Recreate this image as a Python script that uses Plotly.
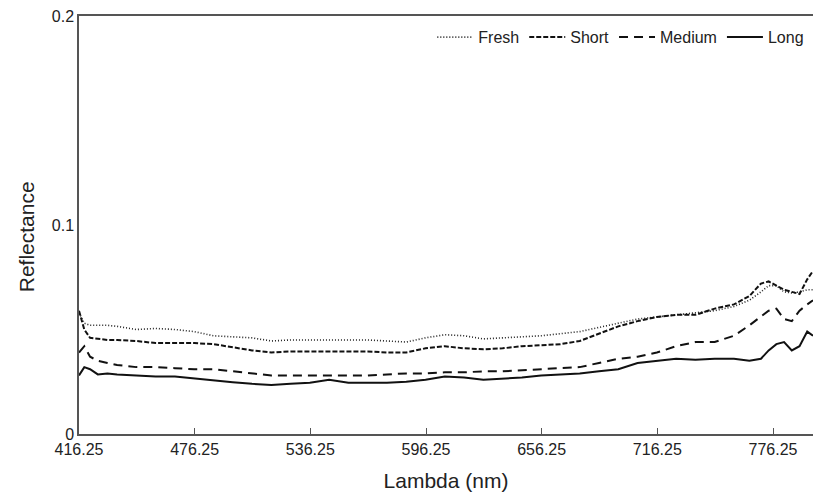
import plotly.graph_objects as go

wavelength = [416.25, 419, 422, 426, 431, 436, 446, 456, 466, 476, 486, 496, 506, 516, 526, 536,
              546, 556, 566, 576, 586, 596, 606, 616, 626, 636, 646, 656, 666, 676, 686, 696,
              706, 716, 726, 736, 746, 756, 764, 770, 774, 778, 782, 786, 790, 794, 797]

fresh = [0.058, 0.053, 0.052, 0.052, 0.052, 0.0515, 0.050, 0.0505, 0.050, 0.049, 0.047, 0.0465,
         0.046, 0.0445, 0.045, 0.045, 0.045, 0.045, 0.045, 0.0445, 0.044, 0.046, 0.0475, 0.047,
         0.0455, 0.046, 0.0465, 0.047, 0.048, 0.049, 0.051, 0.053, 0.055, 0.056, 0.057, 0.058,
         0.059, 0.061, 0.064, 0.068, 0.071, 0.071, 0.068, 0.0675, 0.068, 0.069, 0.069]

short = [0.059, 0.050, 0.046, 0.0455, 0.045, 0.045, 0.0445, 0.0435, 0.0435, 0.0435, 0.043, 0.0415,
         0.040, 0.039, 0.0395, 0.0395, 0.0395, 0.0395, 0.0395, 0.039, 0.039, 0.041, 0.042, 0.041,
         0.0405, 0.041, 0.042, 0.0425, 0.043, 0.0445, 0.048, 0.0515, 0.054, 0.056, 0.057, 0.057,
         0.060, 0.062, 0.066, 0.072, 0.073, 0.071, 0.069, 0.068, 0.067, 0.074, 0.078]

medium = [0.039, 0.042, 0.037, 0.035, 0.034, 0.033, 0.032, 0.032, 0.0315, 0.031, 0.031, 0.030,
          0.029, 0.028, 0.028, 0.028, 0.028, 0.028, 0.028, 0.0285, 0.029, 0.029, 0.0295, 0.0295,
          0.030, 0.030, 0.0305, 0.031, 0.0315, 0.032, 0.034, 0.036, 0.037, 0.039, 0.042, 0.044,
          0.044, 0.047, 0.052, 0.056, 0.059, 0.060, 0.055, 0.054, 0.059, 0.062, 0.064]

long_ = [0.028, 0.032, 0.031, 0.0285, 0.029, 0.0285, 0.028, 0.0275, 0.0275, 0.0265, 0.0258, 0.0248,
         0.0240, 0.0235, 0.024, 0.0245, 0.026, 0.0245, 0.0245, 0.0245, 0.025, 0.026, 0.0275, 0.027,
         0.026, 0.0265, 0.027, 0.028, 0.0285, 0.029, 0.030, 0.031, 0.034, 0.035, 0.036, 0.0355,
         0.036, 0.036, 0.035, 0.036, 0.040, 0.043, 0.044, 0.040, 0.042, 0.049, 0.047]

x_ticks = [416.25, 476.25, 536.25, 596.25, 656.25, 716.25, 776.25]
y_ticks = [0, 0.1, 0.2]
y_tick_text = ["0", "0.1", "0.2"]

series = [
    ("Fresh", fresh, dict(color="#222", width=1.6, dash="1px,2px")),
    ("Short", short, dict(color="#111", width=2, dash="5px,2px")),
    ("Medium", medium, dict(color="#111", width=2, dash="9px,6px")),
    ("Long", long_, dict(color="#111", width=2)),
]

fig = go.Figure()
for name, vals, line in series:
    fig.add_trace(go.Scatter(x=wavelength, y=vals, mode="lines", name=name, line=line))

font_family = "Liberation Sans, Arial, sans-serif"
fig.update_layout(
    width=814, height=498,
    margin=dict(l=79, r=1, t=16, b=64),
    plot_bgcolor="white", paper_bgcolor="white",
    font=dict(family=font_family, color="#222", size=16),
    legend=dict(orientation="h", x=0.995, xanchor="right", y=0.99, yanchor="top",
                font=dict(size=16, family=font_family), itemwidth=36,
                bgcolor="rgba(0,0,0,0)", tracegroupgap=0),
    xaxis=dict(range=[416.25, 797], tickvals=x_ticks, ticktext=[f"{v:.2f}" for v in x_ticks],
               showgrid=False, zeroline=False, showline=True, linecolor="#555", linewidth=1.5,
               mirror=True, ticks="inside", ticklen=6, tickcolor="#555", automargin=False,
               ticklabeloverflow="allow",
               title=dict(text="Lambda (nm)", font=dict(size=21), standoff=16),
               tickfont=dict(size=16)),
    yaxis=dict(range=[0, 0.2], tickvals=y_ticks, ticktext=y_tick_text, automargin=False,
               ticklabeloverflow="allow",
               showgrid=False, zeroline=False, showline=True, linecolor="#555", linewidth=1.5,
               ticks="", tickfont=dict(size=16)),
    annotations=[dict(text="Reflectance", xref="paper", yref="paper", x=-0.072, y=0.471,
                      xanchor="center", yanchor="middle", textangle=-90, showarrow=False,
                      font=dict(size=21, family=font_family, color="#222"))],
)

fig.write_html(
    "out.html",
    config={"displayModeBar": False},
    post_script="document.body.style.margin='0';document.body.style.overflow='hidden';",
)
